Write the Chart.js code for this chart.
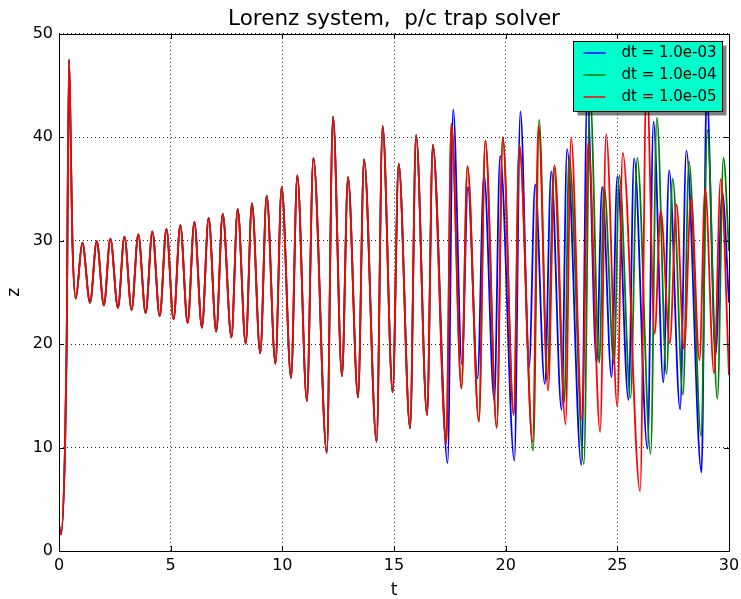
<!DOCTYPE html>
<html>
<head>
<meta charset="utf-8">
<title>Lorenz system</title>
<script src="https://cdn.jsdelivr.net/npm/chart.js@4.4.1/dist/chart.umd.min.js"></script>
<style>
  body { margin: 0; background: #fff; }
  #chart { display: block; }
</style>
</head>
<body>
<canvas id="chart" width="741" height="599"></canvas>
<script>
// part of the trajectory where all three step sizes agree
let sharedT = [0, 0.09, 0.27, 0.34, 0.45, 0.54, 0.60, 0.75, 1.045, 1.39, 1.69, 2.01, 2.30, 2.64, 2.93, 3.25, 3.55, 3.88,
    4.18, 4.51, 4.81, 5.13, 5.43, 5.76, 6.06, 6.40, 6.70, 7.04, 7.33, 7.72, 8.00, 8.36, 8.64, 9.01, 9.30, 9.69, 9.97, 10.39,
    10.67, 11.10, 11.39, 11.99, 12.27, 12.67, 12.94, 13.39, 13.66, 14.22, 14.49, 14.94, 15.21, 15.72, 15.99, 16.48, 16.74]
let sharedZ = [2.5, 1.6, 10.0, 19.5, 47.5, 37.5, 30.0, 24.4, 29.8, 24.0, 29.95, 23.75, 30.2, 23.5, 30.4, 23.3, 30.6, 23.0,
    30.9, 22.7, 31.15, 22.4, 31.5, 22.05, 31.8, 21.6, 32.2, 21.2, 32.6, 20.65, 33.05, 20.05, 33.6, 19.1, 34.35, 18.1, 35.2, 16.75,
    36.3, 14.5, 38.0, 9.5, 42.0, 16.9, 36.15, 14.85, 37.85, 10.55, 41.1, 15.35, 37.45, 11.85, 40.2, 13.15, 39.25]

// dt = 1e-4 and dt = 1e-5 still agree here
let redGreenT = [17.34, 17.57, 18.02, 18.29, 18.80, 19.09, 19.60, 19.87, 20.36, 20.61]
let redGreenZ = [10.4, 41.3, 15.7, 37.2, 12.5, 39.7, 11.9, 40.0, 13.15, 39.25]

let blueT = [17.40, 17.65, 18.04, 18.31, 18.74, 19.03, 19.49, 19.75, 20.39, 20.66, 21.05, 21.32, 21.75, 22.04, 22.50, 22.75,
    23.39, 23.65, 24.07, 24.32, 24.74, 25.00, 25.50, 25.75, 26.35, 26.62, 27.06, 27.32, 27.81, 28.09, 28.77, 29.00, 29.40, 29.70, 30]
let blueZ = [8.5, 42.7, 18.05, 35.2, 16.7, 36.4, 14.6, 38.2, 8.75, 42.5, 17.8, 35.45, 16.15, 36.7, 13.65, 38.85,
    8.3, 44.0, 18.2, 35.2, 16.8, 36.25, 14.6, 37.95, 9.9, 41.5, 16.3, 36.8, 13.7, 38.7, 7.6, 44.5, 19.0, 34.6, 24]

let greenT = [21.23, 21.50, 21.86, 22.16, 22.63, 22.84, 23.50, 23.78, 24.19, 24.41, 24.85, 25.09, 25.59, 25.89, 26.49, 26.77,
    27.20, 27.48, 27.94, 28.21, 28.75, 29.03, 29.48, 29.75, 30]
let greenZ = [9.7, 41.7, 16.6, 37.1, 14.45, 38.1, 8.4, 44.0, 18.2, 35.2, 18.1, 36.3, 14.8, 38.0, 9.4, 41.9,
    17.1, 36.0, 15.1, 37.65, 11.1, 40.7, 14.7, 38.0, 29]

let redT = [21.21, 21.47, 21.90, 22.19, 22.68, 22.93, 23.42, 23.70, 24.23, 24.50, 25.00, 25.24, 26.02, 26.31, 26.67, 26.94,
    27.35, 27.65, 27.99, 28.30, 28.68, 28.93, 29.33, 29.63, 30]
let redZ = [10.55, 41.2, 15.5, 37.3, 12.25, 39.95, 12.65, 39.5, 11.5, 40.3, 13.95, 38.5, 5.8, 46.0, 21.0, 32.9,
    20.1, 33.5, 19.5, 34.1, 18.45, 35.0, 17.2, 35.95, 17]

let seriesLabels = ['dt = 1.0e-03', 'dt = 1.0e-04', 'dt = 1.0e-05']
let seriesColors = ['#0000ff', '#008000', '#ff0000']
let xTicks = [0, 5, 10, 15, 20, 25, 30]
let yTicks = [0, 10, 20, 30, 40, 50]

function toPoints(ts, zs) {
    return ts.map(function(t, i) { return {x: t, y: zs[i]} })
}

let shared = toPoints(sharedT, sharedZ)
let redGreen = toPoints(redGreenT, redGreenZ)
let blueData = shared.concat(toPoints(blueT, blueZ))
let greenData = shared.concat(redGreen, toPoints(greenT, greenZ))
let redData = shared.concat(redGreen, toPoints(redT, redZ))

// frame, inward ticks and the boxed legend
const framePlugin = {
    id: 'frame',
    afterDatasetsDraw(chart) {
        let ctx = chart.ctx
        let a = chart.chartArea
        let xs = chart.scales.x
        let ys = chart.scales.y
        ctx.save()
        ctx.strokeStyle = '#000'
        ctx.lineWidth = 1
        ctx.beginPath()
        xTicks.forEach(function(v) {
            let px = Math.round(xs.getPixelForValue(v)) + 0.5
            ctx.moveTo(px, a.bottom); ctx.lineTo(px, a.bottom - 5)
            ctx.moveTo(px, a.top); ctx.lineTo(px, a.top + 5)
        })
        yTicks.forEach(function(v) {
            let py = Math.round(ys.getPixelForValue(v)) + 0.5
            ctx.moveTo(a.left, py); ctx.lineTo(a.left + 5, py)
            ctx.moveTo(a.right, py); ctx.lineTo(a.right - 5, py)
        })
        ctx.stroke()
        ctx.strokeRect(Math.round(a.left) + 0.5, Math.round(a.top) + 0.5,
            Math.round(a.right - a.left), Math.round(a.bottom - a.top))

        // legend
        let w = 149, h = 70
        let lx = Math.round(a.right - 7.5 - w) + 0.5
        let ly = Math.round(a.top + 7.5) + 0.5
        ctx.fillStyle = 'rgba(0,0,0,0.5)'
        ctx.fillRect(lx + 4, ly + 4, w, h)
        ctx.fillStyle = '#00ffcc'
        ctx.fillRect(lx, ly, w, h)
        ctx.strokeRect(lx, ly, w, h)
        ctx.font = '15px "DejaVu Sans"'
        ctx.textBaseline = 'middle'
        ctx.textAlign = 'left'
        seriesLabels.forEach(function(label, i) {
            let ry = ly + 11.5 + i * 22
            ctx.strokeStyle = seriesColors[i]
            ctx.lineWidth = 1.5
            ctx.beginPath()
            ctx.moveTo(lx + 10, ry); ctx.lineTo(lx + 32, ry)
            ctx.stroke()
            ctx.fillStyle = '#000'
            ctx.fillText(label, lx + 48, ry)
        })
        ctx.restore()
    }
}

Chart.defaults.color = '#000'
Chart.defaults.font.family = '"DejaVu Sans", sans-serif'

let datasetList = [blueData, greenData, redData].map(function(d, i) {
    return {
        label: seriesLabels[i],
        data: d,
        borderColor: seriesColors[i],
        borderWidth: 1.8,
        pointRadius: 0,
        fill: false,
        cubicInterpolationMode: 'monotone',
        order: 3 - i
    }
})

let gridOpts = {
    color: 'rgba(0,0,0,0.85)',
    lineWidth: 1,
    drawTicks: false
}

new Chart(document.getElementById('chart').getContext('2d'), {
    type: 'line',
    data: { datasets: datasetList },
    plugins: [framePlugin],
    options: {
        responsive: false,
        animation: false,
        layout: { padding: { left: 0, right: 12, top: 0, bottom: 0 } },
        plugins: {
            legend: { display: false },
            tooltip: { enabled: false },
            title: {
                display: true,
                fullSize: false,
                text: 'Lorenz system,  p/c trap solver',
                font: { size: 21.5, weight: 'normal' },
                padding: { top: 7, bottom: 1 }
            }
        },
        scales: {
            x: {
                type: 'linear',
                min: 0,
                max: 30,
                afterFit: function(scale) {
                    scale.height = 48
                    scale.paddingLeft = 0
                    scale.paddingRight = 0
                },
                afterBuildTicks: function(scale) { scale.ticks = xTicks.map(function(v) { return {value: v} }) },
                ticks: { padding: 5.5, font: { size: 16 }, maxRotation: 0 },
                grid: gridOpts,
                border: { display: false, dash: [1, 3] },
                title: { display: true, text: 't', font: { size: 17, lineHeight: 1 }, padding: { top: 0, bottom: 0 } }
            },
            y: {
                type: 'linear',
                min: 0,
                max: 50,
                afterFit: function(scale) {
                    scale.width = 59
                    scale.paddingTop = 0
                    scale.paddingBottom = 0
                },
                afterBuildTicks: function(scale) { scale.ticks = yTicks.map(function(v) { return {value: v} }) },
                ticks: { padding: 6, font: { size: 16 } },
                grid: gridOpts,
                border: { display: false, dash: [1, 3] },
                title: { display: true, text: 'z', font: { size: 17 }, padding: { top: 4, bottom: 0 } }
            }
        }
    }
})
</script>
</body>
</html>
